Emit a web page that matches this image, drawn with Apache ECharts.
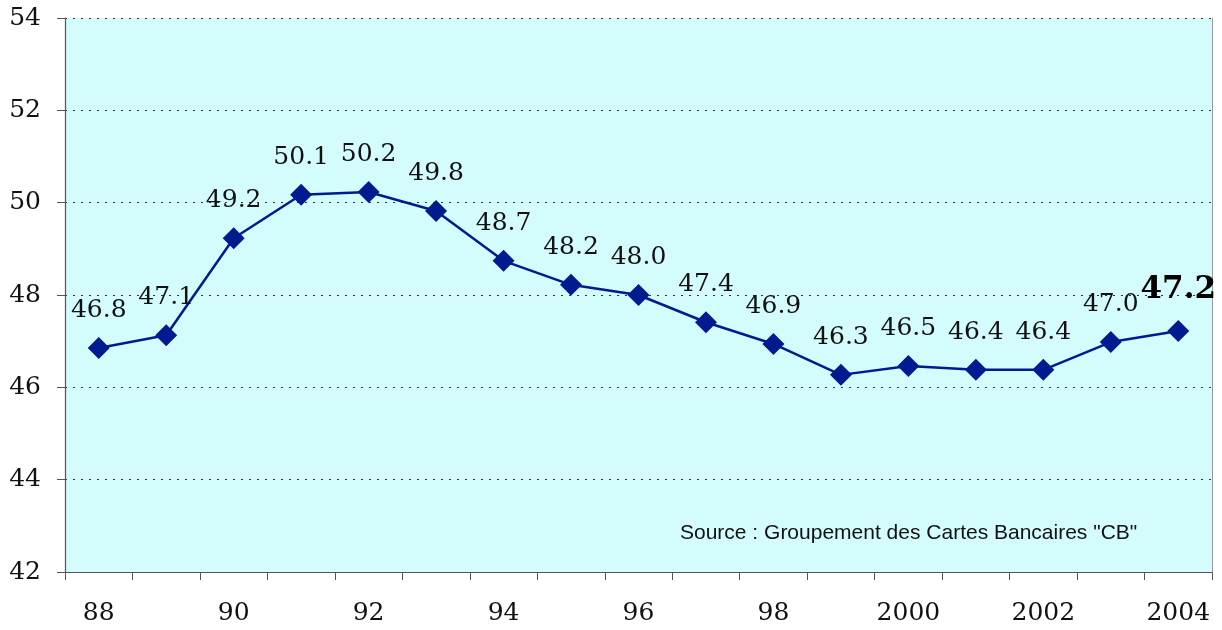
<!DOCTYPE html>
<html><head><meta charset="utf-8">
<script src="https://cdn.jsdelivr.net/npm/echarts@6/dist/echarts.min.js"></script>
<style>html,body{margin:0;padding:0;background:#fff}#c{width:1222px;height:630px}</style>
</head><body><div id="c"></div>
<script>
const categories = ['88','89','90','91','92','93','94','95','96','97','98','99','2000','2001','2002','2003','2004'];
const values = [46.85, 47.13, 49.23, 50.17, 50.23, 49.82, 48.74, 48.22, 48.0, 47.41, 46.94, 46.27, 46.46, 46.38, 46.38, 46.98, 47.22];
const labels = ['46.8','47.1','49.2','50.1','50.2','49.8','48.7','48.2','48.0','47.4','46.9','46.3','46.5','46.4','46.4','47.0','47.2'];
const yTicks = [42, 44, 46, 48, 50, 52, 54];
const sourceText = 'Source : Groupement des Cartes Bancaires "CB"';

const serif = 'DejaVu Serif';
const chart = echarts.init(document.getElementById('c'));
const last = values.length - 1;
chart.setOption({
  animation: false,
  grid: { left: 65, right: 10, top: 18, bottom: 58, show: true, backgroundColor: '#d4fcfc', borderWidth: 0 },
  xAxis: {
    type: 'category', data: categories, boundaryGap: true,
    axisLine: { lineStyle: { color: '#555', width: 1.2 } },
    axisTick: { show: true, interval: 0, length: 8, lineStyle: { color: '#555' } },
    axisLabel: { interval: 1, margin: 29, fontFamily: serif, fontSize: 25, color: '#111' }
  },
  yAxis: [{
    type: 'value', min: yTicks[0], max: yTicks[yTicks.length - 1], interval: 2,
    axisLine: { show: true, lineStyle: { color: '#555', width: 1.2 } },
    axisTick: { show: true, length: 8, lineStyle: { color: '#555' } },
    axisLabel: { margin: 24, fontFamily: serif, fontSize: 25, color: '#111' },
    splitLine: { show: true, lineStyle: { color: '#333', type: [2, 6], width: 1 } }
  }, {
    type: 'value', min: yTicks[0], max: yTicks[yTicks.length - 1], interval: 2, position: 'right',
    axisLine: { show: true, lineStyle: { color: '#999', width: 1 } },
    axisTick: { show: false }, axisLabel: { show: false }, splitLine: { show: false }
  }],
  series: [{
    type: 'line', data: values.map((v, i) => i === last ? {
      value: v,
      label: { formatter: labels[i], fontSize: 31, fontWeight: 'bold', color: '#000', distance: 15 }
    } : v),
    symbol: 'diamond', symbolSize: 22,
    lineStyle: { color: '#001a90', width: 2.5 },
    itemStyle: { color: '#001a90' },
    label: {
      show: true, position: 'top', distance: 14,
      formatter: p => labels[p.dataIndex],
      fontFamily: serif, fontSize: 25, color: '#111'
    }
  }],
  graphic: [{
    type: 'text', left: 680, top: 523,
    style: { text: sourceText, font: '21px "Liberation Sans", Arial, sans-serif', fill: '#111' }
  }]
});
</script></body></html>
